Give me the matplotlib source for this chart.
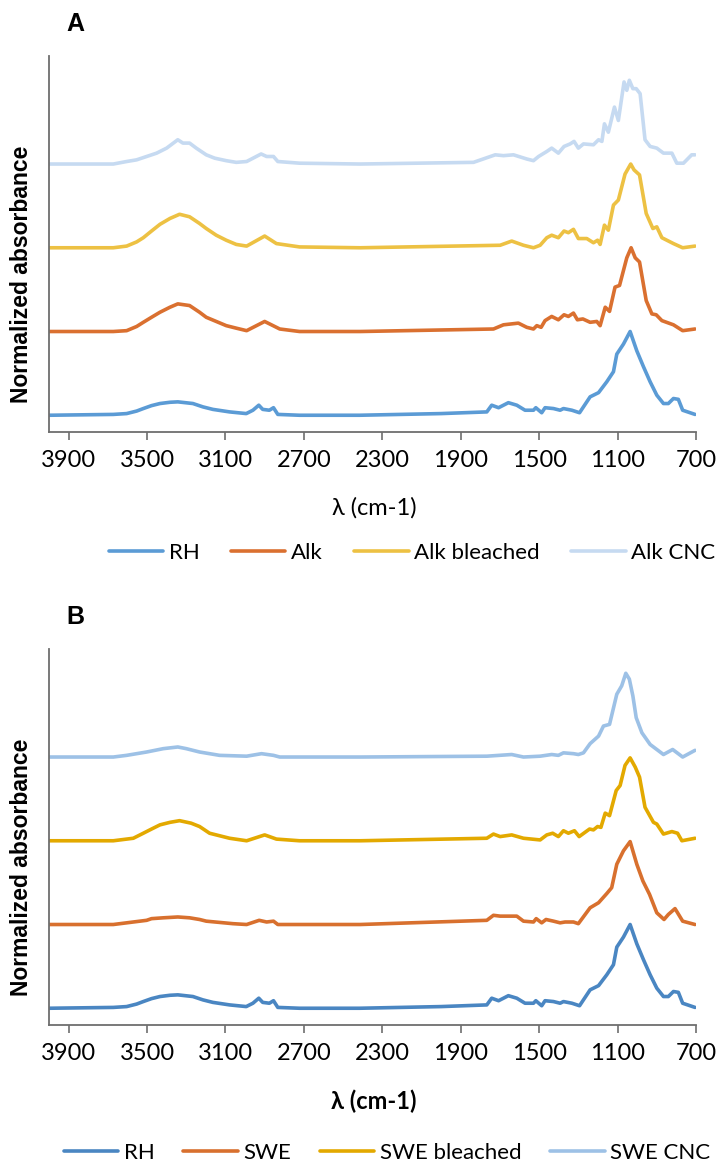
import numpy as np
import matplotlib
matplotlib.use("Agg")
from matplotlib import pyplot as plt

# FTIR spectra, wavenumber (cm-1) and normalized absorbance (0..1)
rh_wn = [4000, 3672, 3604, 3553, 3519, 3477, 3434, 3383, 3343, 3266, 3215, 3164, 3079, 2994, 2960, 2930,
         2910, 2876, 2855, 2833, 2722, 2416, 2000, 1767, 1742, 1707, 1657, 1614, 1572, 1529, 1517, 1487,
         1470, 1427, 1393, 1376, 1333, 1294, 1240, 1197, 1155, 1121, 1104, 1070, 1036, 1002, 968, 934, 900,
         866, 841, 815, 790, 768, 705]
rh_abs = [0, 0.01, 0.02, 0.05, 0.08, 0.115, 0.14, 0.155, 0.16, 0.14, 0.10, 0.07, 0.04, 0.02, 0.06, 0.12,
          0.07, 0.06, 0.09, 0.01, 0.0, 0.0, 0.02, 0.04, 0.12, 0.09, 0.15, 0.12, 0.06, 0.06, 0.09, 0.03,
          0.09, 0.08, 0.06, 0.08, 0.06, 0.03, 0.22, 0.27, 0.40, 0.52, 0.73, 0.85, 1.0, 0.77, 0.58, 0.40, 0.24,
          0.14, 0.14, 0.20, 0.19, 0.06, 0.01]

alk_wn = [4000, 3672, 3604, 3553, 3519, 3477, 3434, 3383, 3343, 3283, 3232, 3198, 3147, 3096, 3045, 2992,
          2900, 2823, 2722, 2413, 1733, 1682, 1606, 1563, 1529, 1512, 1490, 1470, 1436, 1402, 1373, 1351,
          1325, 1305, 1277, 1240, 1206, 1189, 1163, 1141, 1113, 1090, 1053, 1031, 1010, 988, 954, 925, 903,
          874, 815, 768, 705]
alk_abs = [0, 0, 0.01, 0.06, 0.11, 0.17, 0.23, 0.29, 0.33, 0.31, 0.23, 0.17, 0.12, 0.07, 0.04, 0.01,
           0.12, 0.03, 0.0, 0.0, 0.03, 0.08, 0.10, 0.05, 0.03, 0.07, 0.05, 0.13, 0.18, 0.14, 0.20, 0.18,
           0.22, 0.14, 0.15, 0.11, 0.12, 0.07, 0.29, 0.24, 0.53, 0.55, 0.88, 1.0, 0.88, 0.83, 0.37, 0.21, 0.20,
           0.13, 0.08, 0.01, 0.03]

alkb_wn = [4000, 3672, 3604, 3553, 3519, 3477, 3434, 3383, 3334, 3283, 3232, 3198, 3147, 3096, 3045, 2992,
           2900, 2840, 2722, 2413, 1699, 1640, 1580, 1529, 1495, 1461, 1436, 1402, 1373, 1351, 1325, 1300,
           1257, 1223, 1202, 1189, 1167, 1147, 1121, 1096, 1062, 1033, 1016, 988, 954, 920, 900, 874, 815,
           768, 705]
alkb_abs = [0, 0, 0.02, 0.07, 0.12, 0.20, 0.28, 0.35, 0.40, 0.37, 0.29, 0.23, 0.15, 0.09, 0.04, 0.02,
            0.14, 0.05, 0.01, 0.0, 0.03, 0.08, 0.03, 0.0, 0.03, 0.12, 0.15, 0.12, 0.20, 0.18, 0.22, 0.11,
            0.11, 0.06, 0.09, 0.04, 0.27, 0.21, 0.51, 0.57, 0.88, 1.0, 0.93, 0.87, 0.41, 0.23, 0.25, 0.12, 0.05,
            0.0, 0.02]

alkc_wn = [4000, 3672, 3604, 3553, 3502, 3451, 3400, 3343, 3317, 3283, 3249, 3198, 3155, 3096, 3045, 2992,
           2918, 2890, 2855, 2833, 2722, 2413, 1835, 1724, 1682, 1631, 1563, 1529, 1503, 1461, 1436, 1402,
           1373, 1342, 1322, 1300, 1274, 1223, 1197, 1180, 1167, 1147, 1116, 1096, 1067, 1053, 1040, 1022,
           1005, 985, 960, 934, 900, 866, 823, 798, 764, 722, 705]
alkc_abs = [0, 0, 0.03, 0.05, 0.09, 0.13, 0.19, 0.29, 0.25, 0.25, 0.19, 0.11, 0.07, 0.04, 0.02, 0.03,
            0.12, 0.09, 0.09, 0.03, 0.01, 0.0, 0.02, 0.11, 0.10, 0.11, 0.06, 0.04, 0.09, 0.15, 0.19, 0.13,
            0.21, 0.24, 0.27, 0.19, 0.24, 0.23, 0.29, 0.27, 0.48, 0.38, 0.68, 0.52, 0.98, 0.88, 1.0, 0.90,
            0.90, 0.84, 0.29, 0.21, 0.19, 0.13, 0.13, 0.01, 0.01, 0.11, 0.11]

swe_wn = [4000, 3672, 3604, 3502, 3477, 3417, 3343, 3283, 3232, 3198, 3062, 2992, 2928, 2890, 2855, 2833,
          2722, 2413, 1767, 1733, 1699, 1614, 1580, 1529, 1515, 1487, 1465, 1427, 1393, 1368, 1325, 1300,
          1240, 1197, 1155, 1130, 1104, 1070, 1036, 1002, 971, 937, 900, 863, 841, 807, 768, 705]
swe_abs = [0, 0, 0.02, 0.05, 0.07, 0.08, 0.09, 0.08, 0.06, 0.04, 0.01, 0.0, 0.05, 0.03, 0.04, 0.0,
           0.0, 0.0, 0.05, 0.11, 0.10, 0.10, 0.04, 0.03, 0.07, 0.02, 0.06, 0.04, 0.02, 0.03, 0.03, 0.01,
           0.20, 0.26, 0.37, 0.44, 0.72, 0.88, 0.99, 0.72, 0.52, 0.36, 0.14, 0.06, 0.12, 0.19, 0.04, 0.0]

sweb_wn = [4000, 3672, 3604, 3570, 3519, 3477, 3434, 3383, 3334, 3275, 3232, 3181, 3130, 3079, 2992, 2900,
           2840, 2722, 2413, 1767, 1733, 1699, 1640, 1580, 1495, 1461, 1431, 1402, 1376, 1351, 1320, 1296,
           1243, 1223, 1202, 1185, 1163, 1141, 1107, 1087, 1062, 1036, 1010, 988, 960, 917, 900, 866, 823,
           794, 772, 705]
sweb_abs = [0, 0, 0.02, 0.03, 0.09, 0.14, 0.19, 0.22, 0.24, 0.21, 0.17, 0.09, 0.06, 0.03, 0.0, 0.07,
            0.02, 0.0, 0.0, 0.03, 0.08, 0.05, 0.07, 0.03, 0.01, 0.07, 0.09, 0.05, 0.12, 0.09, 0.12, 0.05,
            0.14, 0.13, 0.17, 0.16, 0.33, 0.30, 0.60, 0.66, 0.90, 0.99, 0.88, 0.76, 0.40, 0.22, 0.20, 0.08,
            0.11, 0.09, 0.0, 0.03]

swec_wn = [4000, 3672, 3604, 3502, 3417, 3343, 3300, 3232, 3130, 2992, 2916, 2855, 2823, 2413, 1767, 1640,
           1580, 1495, 1436, 1402, 1376, 1325, 1300, 1274, 1240, 1197, 1172, 1141, 1104, 1079, 1058, 1040,
           1022, 1005, 976, 934, 900, 866, 819, 768, 705]
swec_abs = [0, 0, 0.02, 0.06, 0.10, 0.12, 0.10, 0.06, 0.02, 0.01, 0.04, 0.02, 0.0, 0.0, 0.01, 0.03,
            0.0, 0.01, 0.03, 0.02, 0.05, 0.04, 0.03, 0.05, 0.16, 0.25, 0.37, 0.39, 0.75, 0.85, 1.0, 0.93,
            0.73, 0.47, 0.29, 0.15, 0.09, 0.03, 0.09, 0.0, 0.08]

offsets = [0, 1, 2, 3]
xticks = [3900, 3500, 3100, 2700, 2300, 1900, 1500, 1100, 700]

labels_a = ["RH", "Alk", "Alk bleached", "Alk CNC"]
colors_a = ["#5B9BD5", "#DA7030", "#EDC143", "#C6DAF1"]
series_a = [(rh_wn, rh_abs), (alk_wn, alk_abs), (alkb_wn, alkb_abs), (alkc_wn, alkc_abs)]

labels_b = ["RH", "SWE", "SWE bleached", "SWE CNC"]
colors_b = ["#4A86C2", "#D8702E", "#E3A900", "#9DC1E6"]
series_b = [(rh_wn, rh_abs), (swe_wn, swe_abs), (sweb_wn, sweb_abs), (swec_wn, swec_abs)]

W, H = 719, 1164
fig = plt.figure(figsize=(W / 100, H / 100), dpi=100)
calibri = ["Lato", "DejaVu Sans"]


def panel(top_px, series, labels, colors, letter, xlabel_bold, legend_center_px, colspace):
    bottom_px = top_px + 376
    ax = fig.add_axes([49 / W, 1 - bottom_px / H, 647 / W, 376 / H])
    for (wn, ab), off, lab, col in zip(series, offsets, labels, colors):
        ax.plot(wn, np.array(ab) + off, color=col, lw=2.6, label=lab,
                solid_joinstyle="round", solid_capstyle="round")
    ax.set_xlim(4000, 700)
    ax.set_ylim(-0.2, 4.29)
    ax.set_xticks(xticks)
    ax.set_xticklabels([str(t) for t in xticks], fontsize=17, family=calibri)
    ax.set_yticks([])
    for s in ["top", "right"]:
        ax.spines[s].set_visible(False)
    for s in ["left", "bottom"]:
        ax.spines[s].set_color("#6E6E6E")
        ax.spines[s].set_linewidth(1.3)
    ax.tick_params(axis="x", direction="out", length=6, width=1.2, color="#6E6E6E", pad=7)

    fig.text(75 / W, 1 - (top_px - 32) / H, letter, fontsize=18, fontweight="bold",
             family="Liberation Sans", ha="center", va="center")
    fig.text(22 / W, 1 - (top_px + 218) / H, "Normalized absorbance", rotation=90, fontsize=16.5,
             fontweight="bold", family="Liberation Sans", ha="center", va="center")
    fig.text(374 / W, 1 - (bottom_px + 76) / H, "λ (cm-1)", fontsize=17, family=calibri,
             fontweight="bold" if xlabel_bold else "normal", ha="center", va="center")
    ax.legend(loc="center", bbox_to_anchor=(legend_center_px[0] / W, 1 - legend_center_px[1] / H),
              bbox_transform=fig.transFigure, ncol=4, frameon=False, handlelength=2.45,
              handletextpad=0.25, columnspacing=colspace, prop={"family": calibri, "size": 16})
    return ax


panel(56, series_a, labels_a, colors_a, "A", False, (412, 553), 1.42)
panel(649, series_b, labels_b, colors_b, "B", True, (387, 1153), 1.3)

fig.savefig("out.png", dpi=100)
